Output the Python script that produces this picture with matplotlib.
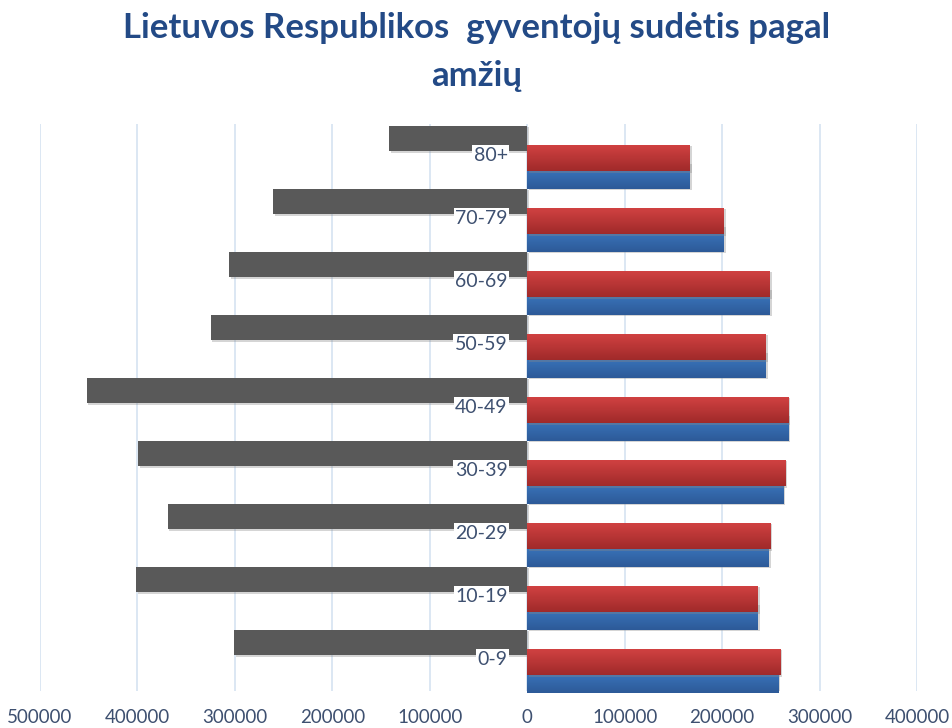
import matplotlib
matplotlib.use("Agg")
import matplotlib.pyplot as plt
import matplotlib.colors as mcolors
import matplotlib.patheffects as pe
import numpy as np

plt.rcParams['font.family'] = ['Lato', 'DejaVu Sans']

# amžiaus grupės ir gyventojų skaičiai
groups = ["0-9", "10-19", "20-29", "30-39", "40-49", "50-59", "60-69", "70-79", "80+"]
gray_vals = [301000, 401000, 369000, 399000, 452000, 325000, 306000, 261000, 142000]
red_vals = [260000, 237000, 250000, 265000, 268000, 245000, 249000, 202000, 167000]
blue_vals = [258000, 237000, 248000, 263000, 268000, 245000, 249000, 202000, 167000]
xticks = [-500000, -400000, -300000, -200000, -100000, 0, 100000, 200000, 300000, 400000]

title_1 = "Lietuvos Respublikos  gyventojų sudėtis pagal"
title_2 = "amžių"

shadow = [pe.SimplePatchShadow(offset=(1.2, -1.2), shadow_rgbFace="#888888", alpha=0.35),
          pe.Normal()]


def shade_bars(ax, bars, top, bottom):
    # vertical gradient inside every bar
    cmap = mcolors.LinearSegmentedColormap.from_list("g", [bottom, top])
    grad = np.linspace(0, 1, 64).reshape(-1, 1)
    for b in bars:
        x0, y0 = b.get_x(), b.get_y()
        w, h = b.get_width(), b.get_height()
        im = ax.imshow(grad, extent=[x0, x0 + w, y0, y0 + h], origin="lower",
                       aspect="auto", cmap=cmap, zorder=b.get_zorder())
        im.set_clip_path(b)


fig = plt.figure(figsize=(9.53, 7.28), dpi=100)
ax = fig.add_axes([40 / 953, 1 - 691 / 728, 877 / 953, 567 / 728])

y = np.arange(len(groups))
gray = ax.barh(y + 0.27, [-v for v in gray_vals], height=0.41, color="#595959", zorder=3)
blue = ax.barh(y - 0.32, blue_vals, height=0.41, color="#3570B5", zorder=3)
red = ax.barh(y - 0.04, red_vals, height=0.42, color="#C03636", zorder=4)
for b in list(gray) + list(blue) + list(red):
    b.set_path_effects(shadow)
shade_bars(ax, blue, "#3D7BC4", "#2D5A98")
shade_bars(ax, red, "#D24242", "#A02A2A")

ax.set_xlim(-500000, 400000)
ax.set_ylim(-0.5, 8.5)
ax.set_xticks(xticks)
ax.set_xticklabels([str(abs(t)) for t in xticks])
ax.set_yticks([])
ax.tick_params(axis="x", length=0, pad=13, labelsize=13.5, labelcolor="#3E5070")
ax.grid(axis="x", color="#D6E3F1", linewidth=1.2, zorder=0)
for s in ax.spines.values():
    s.set_visible(False)

for i, g in enumerate(groups):
    ax.annotate(g, (0, i), xytext=(-14, 0), textcoords="offset points",
                ha="right", va="center", fontsize=14, color="#3E5070",
                bbox=dict(boxstyle="square,pad=0.08", fc="white", ec="none"),
                zorder=6)

fig.text(0.5, 1 - 38 / 728, title_1, ha="center", va="baseline", fontsize=25,
         fontweight="bold", color="#234A86")
fig.text(0.5, 1 - 86 / 728, title_2, ha="center", va="baseline", fontsize=25,
         fontweight="bold", color="#234A86")

fig.savefig("out.png", dpi=100)
